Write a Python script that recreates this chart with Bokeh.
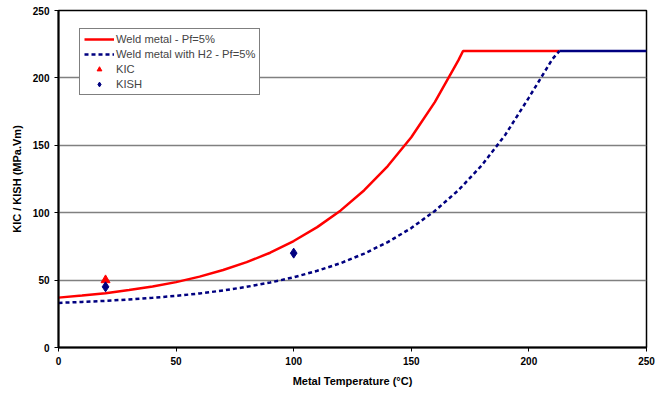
from bokeh.plotting import figure
from bokeh.models import Legend, LegendItem, Range1d, FixedTicker
from bokeh.embed import file_html
from bokeh.resources import INLINE

# Data
red_t = [0, 10, 20, 30, 40, 50, 60, 70, 80, 90, 100, 110, 120, 130, 140, 150, 160, 170, 172, 213]
red_k = [37, 38.5, 40.3, 42.6, 45.3, 48.5, 52.6, 57.5, 63.3, 70.3, 79, 89.3, 101.7, 116.7, 134.6, 156, 182, 213, 220, 220]

blue_t = [0, 10, 20, 30, 40, 50, 60, 70, 80, 90, 100, 110, 120, 130, 140, 150, 160, 170, 180, 190, 200, 210, 213]
blue_k = [33.1, 33.8, 34.6, 35.6, 36.9, 38.3, 40.1, 42.3, 45, 48.2, 52.1, 56.9, 62.6, 69.7, 78.2, 88.6, 101.3, 116.6, 135.2, 157.9, 185.4, 214, 220]

# upper shelf of the H2 curve (drawn solid in the reference)
shelf_t = [213, 250]
shelf_k = [220, 220]

kic_t = [20]
kic_k = [50]
kish_t = [20, 100]
kish_k = [45, 70]

x_ticks = [0, 50, 100, 150, 200, 250]
y_ticks = [0, 50, 100, 150, 200, 250]

FONT = "Liberation Sans"

p = figure(width=665, height=393, output_backend="svg", toolbar_location=None,
           x_range=Range1d(0, 250), y_range=Range1d(0, 250),
           min_border_left=58, min_border_right=19, min_border_top=10, min_border_bottom=46)
p.background_fill_color = "white"
p.border_fill_color = "white"
p.outline_line_color = "black"
p.outline_line_width = 1.5

p.xgrid.grid_line_color = None
p.ygrid.grid_line_color = "#808080"
p.ygrid.grid_line_width = 1.5
p.ygrid.ticker = FixedTicker(ticks=y_ticks)

for ax in (p.xaxis, p.yaxis):
    ax.axis_line_color = "black"
    ax.axis_line_width = 2
    ax.major_tick_line_color = "black"
    ax.major_tick_in = 0
    ax.major_tick_out = 4
    ax.minor_tick_line_color = None
    ax.major_label_text_font = FONT
    ax.major_label_text_font_style = "bold"
    ax.major_label_text_font_size = "10px"
    ax.axis_label_text_font = FONT
    ax.axis_label_text_font_style = "bold"
    ax.axis_label_text_font_size = "11px"
    ax.axis_label_text_color = "black"
    ax.major_label_text_color = "black"

p.xaxis.ticker = FixedTicker(ticks=x_ticks)
p.yaxis.ticker = FixedTicker(ticks=y_ticks)
p.xaxis.axis_label = "Metal Temperature (°C)"
p.yaxis.axis_label = "KIC / KISH (MPa.Vm)"
p.xaxis.major_label_standoff = 5
p.xaxis.axis_label_standoff = 7
p.yaxis.major_label_standoff = 5
p.yaxis.axis_label_standoff = 7

r_red = p.line(red_t, red_k, line_color="#ff0000", line_width=2.5)
r_blue = p.line(blue_t, blue_k, line_color="#000080", line_width=2.5, line_dash="4 3")
p.line(shelf_t, shelf_k, line_color="#000080", line_width=2.5)
r_kic = p.scatter(kic_t, kic_k, marker="triangle", size=9, fill_color="#ff0000", line_color="#ff0000")
r_kish = p.scatter(kish_t, kish_k, marker="diamond", size=10, fill_color="#000080", line_color="#000080")

legend = Legend(items=[
    LegendItem(label="Weld metal - Pf=5%", renderers=[r_red]),
    LegendItem(label="Weld metal with H2 - Pf=5%", renderers=[r_blue]),
    LegendItem(label="KIC", renderers=[r_kic]),
    LegendItem(label="KISH", renderers=[r_kish]),
], location=(21, 252))
legend.label_text_font = FONT
legend.label_text_font_size = "11.2px"
legend.label_height = 12
legend.glyph_height = 12
legend.glyph_width = 30
legend.spacing = 3
legend.padding = 4
legend.margin = 0
legend.label_standoff = 2
legend.border_line_color = "black"
legend.border_line_width = 1
legend.background_fill_alpha = 1
p.add_layout(legend)

open("out.html", "w").write(file_html(p, INLINE))
